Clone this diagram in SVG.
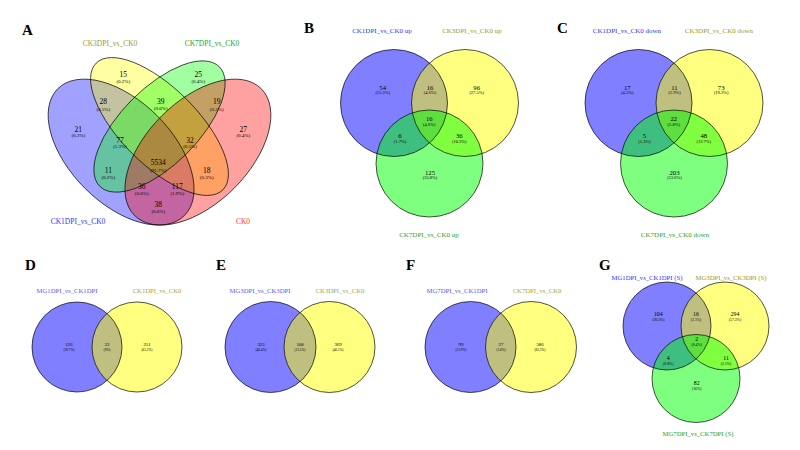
<svg xmlns="http://www.w3.org/2000/svg" width="800" height="450" viewBox="0 0 800 450">
<style>
text{font-family:"Liberation Serif","Times New Roman",serif;text-anchor:middle;}
.pl{font-weight:bold;font-size:15px;text-anchor:start;fill:#000}
.la{font-size:7.5px}
.lb{font-size:7px}
.ld{font-size:6.7px}
.na{font-size:7.5px;fill:#000}
.pa{font-size:5px;fill:#000}
.nb{font-size:6.7px;fill:#000}
.pb{font-size:4.5px;fill:#000}
.nd{font-size:4.8px;fill:#000}
.pd{font-size:3.4px;fill:#000}
.ng{font-size:5.8px;fill:#000}
.pg{font-size:3.8px;fill:#000}
.blu{fill:#3333ff}.oli{fill:#9a9a1a}.grn{fill:#1f9f1f}.red{fill:#ff3333}
.blu2{fill:#5a5aff}.oli2{fill:#a6a644}
.fb{fill:#0000ff}.fy{fill:#ffff00}.fg{fill:#00ff00}.fr{fill:#ff0000}
.s5 .fb,.s5 .fy,.s5 .fg{fill-opacity:0.5}
.s4 .fb,.s4 .fy,.s4 .fg,.s4 .fr{fill-opacity:0.37}
.ol{fill:none;stroke:#000;stroke-width:0.8;stroke-opacity:0.85}
</style>
<rect width="800" height="450" fill="#fff"/>

<!-- Panel A -->
<g id="panelA">
<text class="pl" x="22" y="35">A</text>
<g class="s4">
<ellipse class="fb" cx="121.1" cy="152.1" rx="89.6" ry="51.2" transform="rotate(45 121.1 152.1)"/>
<ellipse class="fy" cx="159.5" cy="126.5" rx="89.6" ry="38.4" transform="rotate(45 159.5 126.5)"/>
<ellipse class="fg" cx="159.5" cy="126.5" rx="84.5" ry="38.4" transform="rotate(-45 159.5 126.5)"/>
<ellipse class="fr" cx="197.9" cy="152.1" rx="89.6" ry="51.2" transform="rotate(-45 197.9 152.1)"/>
</g>
<g class="ol">
<ellipse cx="121.1" cy="152.1" rx="89.6" ry="51.2" transform="rotate(45 121.1 152.1)"/>
<ellipse cx="159.5" cy="126.5" rx="89.6" ry="38.4" transform="rotate(45 159.5 126.5)"/>
<ellipse cx="159.5" cy="126.5" rx="84.5" ry="38.4" transform="rotate(-45 159.5 126.5)"/>
<ellipse cx="197.9" cy="152.1" rx="89.6" ry="51.2" transform="rotate(-45 197.9 152.1)"/>
</g>
<text class="la oli" x="110" y="45.5">CK3DPI_vs_CK0</text>
<text class="la grn" x="212" y="45.5">CK7DPI_vs_CK0</text>
<text class="la blu" x="78" y="223.5">CK1DPI_vs_CK0</text>
<text class="la red" x="243" y="223.5">CK0</text>
<text class="na" x="123.3" y="76.5">15</text><text class="pa" x="123.3" y="82.7">(0.2%)</text>
<text class="na" x="198.3" y="76.5">25</text><text class="pa" x="198.3" y="82.7">(0.4%)</text>
<text class="na" x="103.3" y="104.2">28</text><text class="pa" x="103.3" y="111">(0.5%)</text>
<text class="na" x="160.7" y="103.5">39</text><text class="pa" x="160.7" y="110">(0.6%)</text>
<text class="na" x="216.7" y="104.2">19</text><text class="pa" x="216.7" y="111">(0.3%)</text>
<text class="na" x="78.3" y="131.5">21</text><text class="pa" x="78.3" y="137.4">(0.3%)</text>
<text class="na" x="243.3" y="131.5">27</text><text class="pa" x="243.3" y="137.4">(0.4%)</text>
<text class="na" x="120" y="142.5">77</text><text class="pa" x="120" y="148.4">(1.3%)</text>
<text class="na" x="190" y="142.5">32</text><text class="pa" x="190" y="148.4">(0.5%)</text>
<text class="na" x="158.3" y="165.2">5534</text><text class="pa" x="158.3" y="171.7">(91.7%)</text>
<text class="na" x="108.3" y="173.2">11</text><text class="pa" x="108.3" y="179">(0.2%)</text>
<text class="na" x="206.7" y="173.2">18</text><text class="pa" x="206.7" y="179">(0.3%)</text>
<text class="na" x="141.7" y="189.2">36</text><text class="pa" x="141.7" y="195">(0.6%)</text>
<text class="na" x="177.3" y="189.2">117</text><text class="pa" x="177.3" y="195">(1.9%)</text>
<text class="na" x="158.3" y="206.5">38</text><text class="pa" x="158.3" y="213">(0.6%)</text>
</g>

<!-- Panel B -->
<g id="panelB">
<text class="pl" x="304" y="33">B</text>
<g class="s5">
<circle class="fb" cx="394" cy="103" r="53.5"/>
<circle class="fy" cx="465" cy="103" r="53.5"/>
<circle class="fg" cx="429.5" cy="163.5" r="53.5"/>
</g>
<g class="ol">
<circle cx="394" cy="103" r="53.5"/>
<circle cx="465" cy="103" r="53.5"/>
<circle cx="429.5" cy="163.5" r="53.5"/>
</g>
<text class="lb blu" x="382" y="32.5">CK1DPI_vs_CK0 up</text>
<text class="lb oli" x="472" y="32.5">CK3DPI_vs_CK0 up</text>
<text class="lb grn" x="429" y="236.5">CK7DPI_vs_CK0 up</text>
<text class="nb" x="382.7" y="89.6">54</text><text class="pb" x="382.7" y="94.3">(15.5%)</text>
<text class="nb" x="430" y="89.6">16</text><text class="pb" x="430" y="94.3">(4.6%)</text>
<text class="nb" x="476.7" y="89.6">96</text><text class="pb" x="476.7" y="94.3">(27.5%)</text>
<text class="nb" x="429.3" y="120.6">16</text><text class="pb" x="429.3" y="125.9">(4.6%)</text>
<text class="nb" x="400" y="138.3">6</text><text class="pb" x="400" y="143.3">(1.7%)</text>
<text class="nb" x="459.3" y="138.3">36</text><text class="pb" x="459.3" y="143.3">(10.3%)</text>
<text class="nb" x="430" y="174.6">125</text><text class="pb" x="430" y="179.3">(35.8%)</text>
</g>

<!-- Panel C -->
<g id="panelC">
<text class="pl" x="557" y="33">C</text>
<g class="s5">
<circle class="fb" cx="638.5" cy="103" r="53.5"/>
<circle class="fy" cx="709.5" cy="103" r="53.5"/>
<circle class="fg" cx="674" cy="163.5" r="53.5"/>
</g>
<g class="ol">
<circle cx="638.5" cy="103" r="53.5"/>
<circle cx="709.5" cy="103" r="53.5"/>
<circle cx="674" cy="163.5" r="53.5"/>
</g>
<text class="lb blu" x="627" y="32.5">CK1DPI_vs_CK0 down</text>
<text class="lb oli" x="719" y="32.5">CK3DPI_vs_CK0 down</text>
<text class="lb grn" x="675" y="236.5">CK7DPI_vs_CK0 down</text>
<text class="nb" x="627.3" y="89.6">17</text><text class="pb" x="627.3" y="94.3">(4.5%)</text>
<text class="nb" x="674.5" y="89.6">11</text><text class="pb" x="674.5" y="94.3">(2.9%)</text>
<text class="nb" x="721.2" y="89.6">73</text><text class="pb" x="721.2" y="94.3">(19.3%)</text>
<text class="nb" x="673.8" y="120.6">22</text><text class="pb" x="673.8" y="125.9">(5.8%)</text>
<text class="nb" x="644.5" y="138.3">5</text><text class="pb" x="644.5" y="143.3">(1.3%)</text>
<text class="nb" x="703.8" y="138.3">48</text><text class="pb" x="703.8" y="143.3">(12.7%)</text>
<text class="nb" x="674.5" y="174.6">203</text><text class="pb" x="674.5" y="179.3">(53.6%)</text>
</g>

<!-- Panel D -->
<g id="panelD">
<text class="pl" x="25" y="270">D</text>
<g class="s5">
<circle class="fb" cx="77" cy="347" r="45"/>
<circle class="fy" cx="137" cy="347" r="45"/>
</g>
<g class="ol">
<circle cx="77" cy="347" r="45"/>
<circle cx="137" cy="347" r="45"/>
</g>
<text class="ld blu2" x="67" y="292.5">MG1DPI_vs_CK1DPI</text>
<text class="ld oli2" x="157" y="292.5">CK1DPI_vs_CK0</text>
<text class="nd" x="69" y="346">126</text><text class="pd" x="69" y="350.5">(30.7%)</text>
<text class="nd" x="107" y="346">33</text><text class="pd" x="107" y="350.5">(8%)</text>
<text class="nd" x="147" y="346">251</text><text class="pd" x="147" y="350.5">(61.2%)</text>
</g>

<!-- Panel E -->
<g id="panelE">
<text class="pl" x="216" y="270">E</text>
<g class="s5">
<circle class="fb" cx="270.5" cy="347" r="45.5"/>
<circle class="fy" cx="329.5" cy="347" r="45.5"/>
</g>
<g class="ol">
<circle cx="270.5" cy="347" r="45.5"/>
<circle cx="329.5" cy="347" r="45.5"/>
</g>
<text class="ld blu2" x="260" y="293">MG3DPI_vs_CK3DPI</text>
<text class="ld oli2" x="340" y="293">CK3DPI_vs_CK0</text>
<text class="nd" x="261" y="346">323</text><text class="pd" x="261" y="350.5">(40.4%)</text>
<text class="nd" x="300" y="346">108</text><text class="pd" x="300" y="350.5">(13.5%)</text>
<text class="nd" x="338" y="346">369</text><text class="pd" x="338" y="350.5">(46.1%)</text>
</g>

<!-- Panel F -->
<g id="panelF">
<text class="pl" x="406" y="270">F</text>
<g class="s5">
<circle class="fb" cx="470.5" cy="347" r="45.5"/>
<circle class="fy" cx="531" cy="347" r="45.5"/>
</g>
<g class="ol">
<circle cx="470.5" cy="347" r="45.5"/>
<circle cx="531" cy="347" r="45.5"/>
</g>
<text class="ld blu2" x="457" y="292.5">MG7DPI_vs_CK1DPI</text>
<text class="ld oli2" x="537" y="292.5">CK7DPI_vs_CK0</text>
<text class="nd" x="461" y="346">99</text><text class="pd" x="461" y="350.5">(13.9%)</text>
<text class="nd" x="501" y="346">27</text><text class="pd" x="501" y="350.5">(3.8%)</text>
<text class="nd" x="540" y="346">586</text><text class="pd" x="540" y="350.5">(82.3%)</text>
</g>

<!-- Panel G -->
<g id="panelG">
<text class="pl" x="599" y="270">G</text>
<g class="s5">
<circle class="fb" cx="667" cy="326" r="44"/>
<circle class="fy" cx="725" cy="326" r="44"/>
<circle class="fg" cx="696" cy="378.5" r="44"/>
</g>
<g class="ol">
<circle cx="667" cy="326" r="44"/>
<circle cx="725" cy="326" r="44"/>
<circle cx="696" cy="378.5" r="44"/>
</g>
<text class="ld blu" x="647" y="279.5">MG1DPI_vs_CK1DPI (S)</text>
<text class="ld oli" x="731" y="279.5">MG3DPI_vs_CK3DPI (S)</text>
<text class="ld grn" x="698" y="436">MG7DPI_vs_CK7DPI (S)</text>
<text class="ng" x="658.3" y="316">104</text><text class="pg" x="658.3" y="320.6">(20.3%)</text>
<text class="ng" x="696" y="316">16</text><text class="pg" x="696" y="320.6">(3.1%)</text>
<text class="ng" x="735" y="316">294</text><text class="pg" x="735" y="320.6">(57.3%)</text>
<text class="ng" x="696.7" y="341.3">2</text><text class="pg" x="696.7" y="345.6">(0.4%)</text>
<text class="ng" x="668.3" y="360.3">4</text><text class="pg" x="668.3" y="364.6">(0.8%)</text>
<text class="ng" x="726" y="360.3">11</text><text class="pg" x="726" y="364.6">(2.1%)</text>
<text class="ng" x="696.7" y="385.3">82</text><text class="pg" x="696.7" y="390">(16%)</text>
</g>
</svg>
